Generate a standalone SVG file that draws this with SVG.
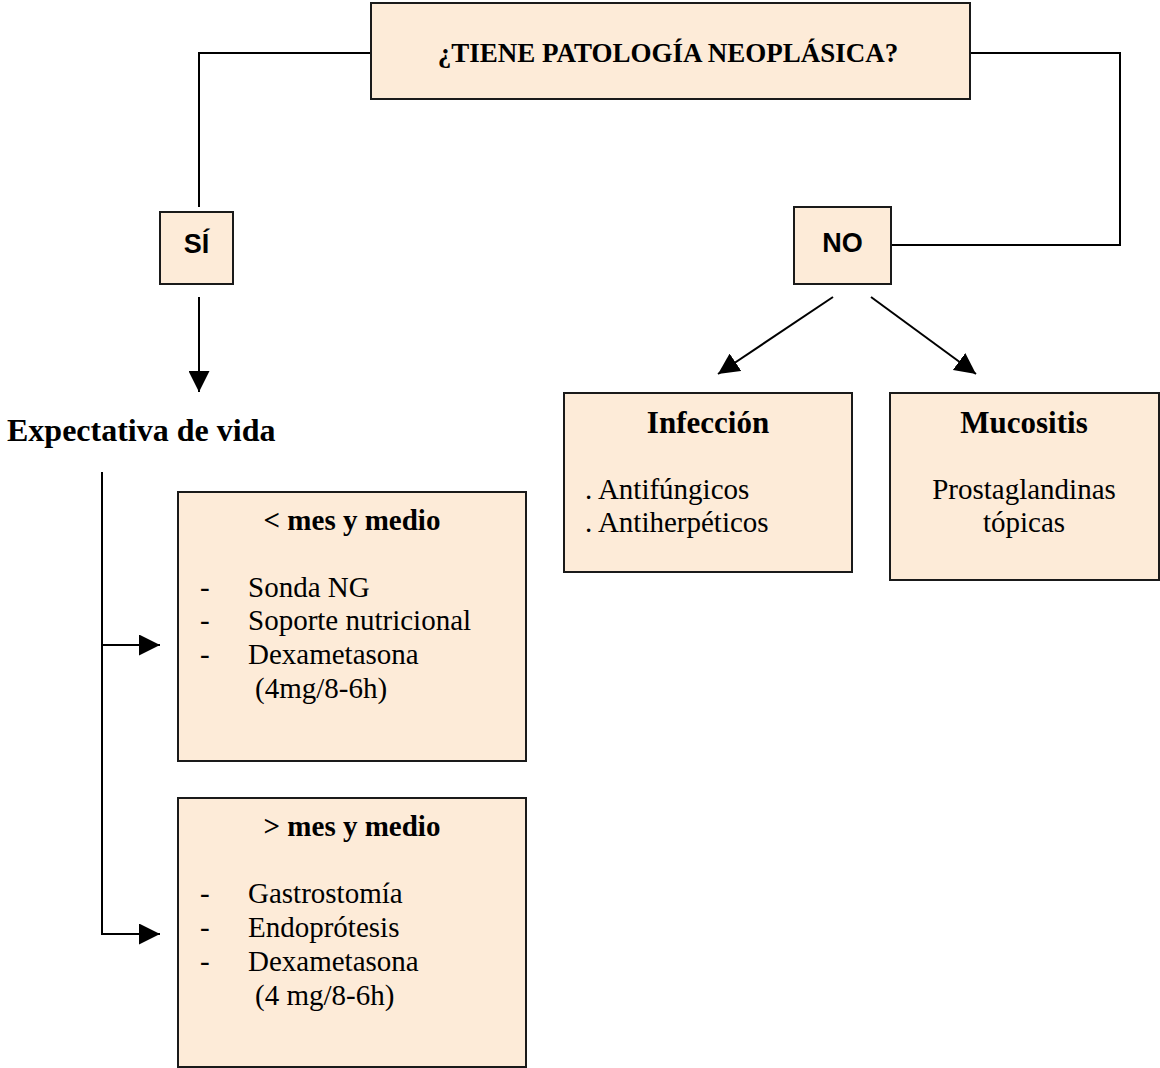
<svg xmlns="http://www.w3.org/2000/svg" width="1160" height="1068" viewBox="0 0 1160 1068">
  <style>
    .box { fill: #fdebd8; stroke: #1a1a1a; stroke-width: 2; }
    .line { fill: none; stroke: #000; stroke-width: 2; }
    .serif { font-family: "Liberation Serif", "Times New Roman", serif; fill: #000; }
    .sans { font-family: "Liberation Sans", Arial, sans-serif; fill: #000; font-weight: bold; }
    .b { font-weight: bold; }
    .t29 { font-size: 29px; }
    .t31 { font-size: 31px; }
  </style>
  <defs>
    <marker id="arrowL" viewBox="0 0 10 10" refX="10" refY="5" markerWidth="21" markerHeight="21" markerUnits="userSpaceOnUse" orient="auto">
      <path d="M0,0 L10,5 L0,10 Z" fill="#000"/>
    </marker>
  </defs>

  <!-- connectors -->
  <g id="connectors">
    <polyline class="line" points="371,53 199,53 199,207"/>
    <polyline class="line" points="970,53 1120,53 1120,245 891,245"/>
    <line class="line" x1="199" y1="297" x2="199" y2="392" marker-end="url(#arrowL)"/>
    <line class="line" x1="833" y1="297" x2="718" y2="374" marker-end="url(#arrowL)"/>
    <line class="line" x1="871" y1="297" x2="976" y2="374" marker-end="url(#arrowL)"/>
    <line class="line" x1="102" y1="472" x2="102" y2="935"/>
    <line class="line" x1="102" y1="645" x2="160" y2="645" marker-end="url(#arrowL)"/>
    <line class="line" x1="102" y1="934" x2="160" y2="934" marker-end="url(#arrowL)"/>
  </g>

  <!-- question -->
  <g id="question">
    <rect class="box" x="371" y="3" width="599" height="96"/>
    <text class="serif b" x="668" y="62" font-size="27" text-anchor="middle">¿TIENE PATOLOGÍA NEOPLÁSICA?</text>
  </g>

  <!-- yes branch -->
  <g id="si">
    <rect class="box" x="160" y="212" width="73" height="72"/>
    <text class="sans" x="196.5" y="253" font-size="27" text-anchor="middle">SÍ</text>
  </g>

  <!-- no branch -->
  <g id="no">
    <rect class="box" x="794" y="207" width="97" height="77"/>
    <text class="sans" x="842.5" y="252" font-size="27" text-anchor="middle">NO</text>
  </g>

  <!-- life expectancy heading -->
  <g id="expectativa">
    <text class="serif b" x="7" y="441" font-size="32">Expectativa de vida</text>
  </g>

  <!-- short expectancy -->
  <g id="menos-mes">
    <rect class="box" x="178" y="492" width="348" height="269"/>
    <text class="serif b t29" x="352" y="530" text-anchor="middle">&lt; mes y medio</text>
    <g class="serif t29">
      <text x="200" y="597">-</text><text x="248" y="597">Sonda NG</text>
      <text x="200" y="630">-</text><text x="248" y="630">Soporte nutricional</text>
      <text x="200" y="664">-</text><text x="248" y="664">Dexametasona</text>
      <text x="255" y="698">(4mg/8-6h)</text>
    </g>
  </g>

  <!-- long expectancy -->
  <g id="mas-mes">
    <rect class="box" x="178" y="798" width="348" height="269"/>
    <text class="serif b t29" x="352" y="836" text-anchor="middle">&gt; mes y medio</text>
    <g class="serif t29">
      <text x="200" y="903">-</text><text x="248" y="903">Gastrostomía</text>
      <text x="200" y="937">-</text><text x="248" y="937">Endoprótesis</text>
      <text x="200" y="971">-</text><text x="248" y="971">Dexametasona</text>
      <text x="255" y="1005">(4 mg/8-6h)</text>
    </g>
  </g>

  <!-- infection -->
  <g id="infeccion">
    <rect class="box" x="564" y="393" width="288" height="179"/>
    <text class="serif b t31" x="708" y="433" text-anchor="middle">Infección</text>
    <text class="serif t29" x="585" y="499">. Antifúngicos</text>
    <text class="serif t29" x="585" y="532">. Antiherpéticos</text>
  </g>

  <!-- mucositis -->
  <g id="mucositis">
    <rect class="box" x="890" y="393" width="269" height="187"/>
    <text class="serif b t31" x="1024" y="433" text-anchor="middle">Mucositis</text>
    <text class="serif t29" x="1024" y="499" text-anchor="middle">Prostaglandinas</text>
    <text class="serif t29" x="1024" y="532" text-anchor="middle">tópicas</text>
  </g>
</svg>
